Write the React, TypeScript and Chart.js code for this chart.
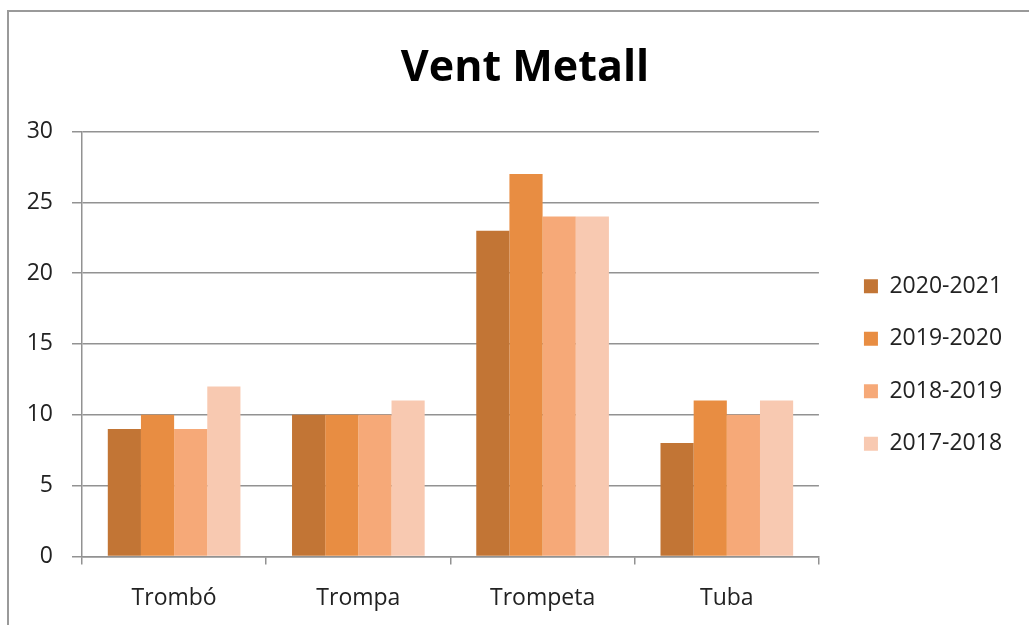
import React, { useEffect, useRef } from "react";
import { Chart, registerables } from "chart.js";

Chart.register(...registerables);

const categories = ["Trombó", "Trompa", "Trompeta", "Tuba"];
const seriesLabels = ["2020-2021", "2019-2020", "2018-2019", "2017-2018"];
const s2020_2021 = [9, 10, 23, 8];
const s2019_2020 = [10, 10, 27, 11];
const s2018_2019 = [9, 10, 24, 10];
const s2017_2018 = [12, 11, 24, 11];
const seriesColors = ["#C27535", "#E88D42", "#F6A978", "#F8C9B1"];
const chartTitle = "Vent Metall";

export default function App() {
  const canvasRef = useRef<HTMLCanvasElement | null>(null);

  useEffect(() => {
    if (!canvasRef.current) return;
    const values = [s2020_2021, s2019_2020, s2018_2019, s2017_2018];
    const font = "'Open Sans', sans-serif";
    const gridColor = "#929292";
    const chart = new Chart(canvasRef.current, {
      type: "bar",
      data: {
        labels: categories,
        datasets: seriesLabels.map((label, i) => ({
          label,
          data: values[i],
          backgroundColor: seriesColors[i],
          borderWidth: 0,
          barPercentage: 1,
          categoryPercentage: 0.72,
        })),
      },
      options: {
        animation: false,
        responsive: false,
        maintainAspectRatio: false,
        layout: { padding: { left: 26, right: 5, top: 0, bottom: -7 } },
        plugins: {
          tooltip: { enabled: false },
          title: {
            display: true,
            text: chartTitle,
            color: "#000",
            font: { family: font, size: 43, weight: "bold" },
            padding: { top: 43, bottom: 36.9 },
          },
          legend: {
            display: true,
            position: "right",
            fullSize: false,
            maxWidth: 400,
            title: {
              display: true,
              text: " ",
              font: { family: font, size: 10 },
              padding: 15,
            },
            labels: {
              boxWidth: 14,
              boxHeight: 14,
              padding: 29.5,
              color: "#222",
              font: { family: font, size: 23 },
              generateLabels: (c: any) =>
                Chart.defaults.plugins.legend.labels
                  .generateLabels(c)
                  .map((item: any) => ({ ...item, text: item.text + "  " })),
            },
          },
        },
        scales: {
          x: {
            grid: {
              display: true,
              drawOnChartArea: false,
              offset: true,
              tickLength: 8,
              color: gridColor,
              lineWidth: 1.5,
            },
            border: { display: true, color: gridColor, width: 1.5 },
            ticks: {
              color: "#222",
              padding: 20,
              font: { family: font, size: 23 },
            },
          },
          y: {
            min: 0,
            max: 30,
            ticks: {
              stepSize: 5,
              color: "#222",
              padding: 19,
              font: { family: font, size: 23 },
            },
            grid: { color: gridColor, lineWidth: 1.5, tickLength: 10 },
            border: { display: true, color: gridColor, width: 1.5 },
            afterFit: (scale: any) => {
              scale.width = 56;
            },
          },
          pad: {
            type: "linear",
            position: "right",
            display: true,
            grid: { display: false },
            ticks: { display: false },
            border: { display: false },
            afterFit: (scale: any) => {
              scale.width = 15.5;
            },
          },
        },
      },
    });
    return () => chart.destroy();
  }, []);

  return (
    <div style={{ position: "absolute", left: 0, top: 0, width: 1029, height: 625, overflow: "hidden" }}>
      <div
        style={{
          position: "absolute",
          left: 7,
          top: 10,
          width: 1030,
          height: 620,
          borderLeft: "2px solid #9a9a9a",
          borderTop: "2px solid #9a9a9a",
        }}
      />
      <canvas
        ref={canvasRef}
        width={1029}
        height={625}
        style={{ position: "absolute", left: 0, top: 0, width: 1029, height: 625 }}
      />
    </div>
  );
}
